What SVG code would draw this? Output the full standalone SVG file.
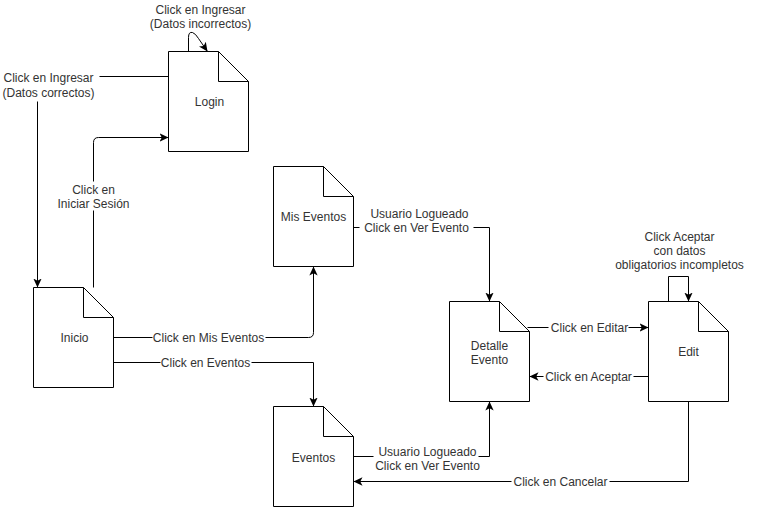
<svg xmlns="http://www.w3.org/2000/svg" width="757" height="507" viewBox="0 0 757 507">
<defs>
<style>
.doc{fill:#fff;stroke:#000;stroke-width:1}
.fold{fill:none;stroke:#000;stroke-width:1}
.edge{fill:none;stroke:#000;stroke-width:1}
.t{font-family:"Liberation Sans",Arial,Helvetica,sans-serif;font-size:12px;fill:#333;text-anchor:middle}
.bg{fill:#fff;stroke:none}
</style>
<marker id="arr" markerUnits="userSpaceOnUse" markerWidth="9" markerHeight="9" viewBox="0 0 8 8" refX="8" refY="4" orient="auto">
<path d="M0,0.3 L8,4 L0,7.7 L2,4 Z" fill="#000"/>
</marker>
</defs>
<rect width="757" height="507" fill="#fff"/>
<g transform="translate(0.5,0.5)">
<g id="connectors">
<path class="edge" d="M188,51 L188,37 Q188,31 192,32 Q195,33 198,38 L207,51" marker-end="url(#arr)"/>
<path class="edge" d="M168,76 L37,76 L37,287" marker-end="url(#arr)"/>
<path class="edge" d="M93,287 L93,142 Q93,137 98,137 L168,137" marker-end="url(#arr)"/>
<path class="edge" d="M113,337 L308,337 Q313,337 313,332 L313,266" marker-end="url(#arr)"/>
<path class="edge" d="M113,362 L313,362 L313,406" marker-end="url(#arr)"/>
<path class="edge" d="M353,227 L489,227 L489,301" marker-end="url(#arr)"/>
<path class="edge" d="M353,456 L489,456 L489,401" marker-end="url(#arr)"/>
<path class="edge" d="M527,327 L648,327" marker-end="url(#arr)"/>
<path class="edge" d="M648,376 L529,376" marker-end="url(#arr)"/>
<path class="edge" d="M668,301 L668,276 L688,276 L688,301" marker-end="url(#arr)"/>
<path class="edge" d="M688,401 L688,481 L353,481" marker-end="url(#arr)"/>
<g id="edge-labels">
<text class="t" x="200" y="13">Click en Ingresar</text>
<text class="t" x="200" y="27">(Datos incorrectos)</text>
<rect class="bg" x="0" y="69" width="99" height="32"/>
<text class="t" x="48" y="81">Click en Ingresar</text>
<text class="t" x="48" y="96">(Datos correctos)</text>
<rect class="bg" x="57" y="181" width="77" height="29"/>
<text class="t" x="93" y="193">Click en</text>
<text class="t" x="93" y="207">Iniciar Sesión</text>
<rect class="bg" x="152" y="330" width="113" height="14"/>
<text class="t" x="208" y="341">Click en Mis Eventos</text>
<rect class="bg" x="160" y="355" width="91" height="14"/>
<text class="t" x="205" y="366">Click en Eventos</text>
<rect class="bg" x="359" y="205" width="114" height="29"/>
<text class="t" x="419" y="217">Usuario Logueado</text>
<text class="t" x="416" y="231">Click en Ver Evento</text>
<rect class="bg" x="373" y="443" width="105" height="29"/>
<text class="t" x="427" y="455">Usuario Logueado</text>
<text class="t" x="427" y="469">Click en Ver Evento</text>
<rect class="bg" x="548" y="320" width="80" height="14"/>
<text class="t" x="589" y="331">Click en Editar</text>
<rect class="bg" x="543" y="369" width="90" height="14"/>
<text class="t" x="588" y="380">Click en Aceptar</text>
<text class="t" x="679" y="240">Click Aceptar</text>
<text class="t" x="679" y="254">con datos</text>
<text class="t" x="679" y="268">obligatorios incompletos</text>
<rect class="bg" x="511" y="474" width="98" height="14"/>
<text class="t" x="560" y="485">Click en Cancelar</text>
</g>
</g>
<g id="login">
<path class="doc" d="M168,51 L218,51 L248,81 L248,151 L168,151 Z"/>
<path class="fold" d="M218,51 L218,81 L248,81"/>
<text class="t" x="209" y="105">Login</text>
</g>
<g id="inicio">
<path class="doc" d="M33,287 L83,287 L113,317 L113,387 L33,387 Z"/>
<path class="fold" d="M83,287 L83,317 L113,317"/>
<text class="t" x="74" y="341">Inicio</text>
</g>
<g id="mis-eventos">
<path class="doc" d="M273,166 L323,166 L353,196 L353,266 L273,266 Z"/>
<path class="fold" d="M323,166 L323,196 L353,196"/>
<text class="t" x="313" y="220">Mis Eventos</text>
</g>
<g id="eventos">
<path class="doc" d="M273,406 L323,406 L353,436 L353,506 L273,506 Z"/>
<path class="fold" d="M323,406 L323,436 L353,436"/>
<text class="t" x="313" y="461">Eventos</text>
</g>
<g id="detalle-evento">
<path class="doc" d="M449,301 L499,301 L529,331 L529,401 L449,401 Z"/>
<path class="fold" d="M499,301 L499,331 L529,331"/>
<text class="t" x="489" y="349">Detalle</text>
<text class="t" x="489" y="363">Evento</text>
</g>
<g id="edit">
<path class="doc" d="M648,301 L698,301 L728,331 L728,401 L648,401 Z"/>
<path class="fold" d="M698,301 L698,331 L728,331"/>
<text class="t" x="688" y="355">Edit</text>
</g>
</g>
</svg>
